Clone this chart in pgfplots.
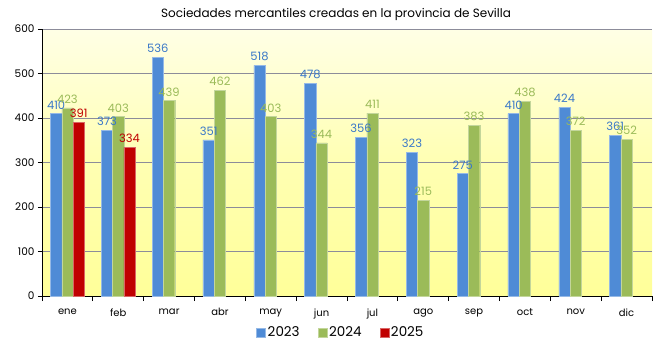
\documentclass[border=0pt]{standalone}
\usepackage{pgfplots}
\pgfplotsset{compat=1.18}
\usepackage{fontspec}
\setmainfont{Poppins}
\definecolor{c23}{HTML}{4F8BD6}
\definecolor{c24}{HTML}{9BBB59}
\definecolor{c25}{HTML}{C00000}
\definecolor{l23}{HTML}{3A78C8}
\definecolor{l24}{HTML}{9BBB59}
\definecolor{grd}{HTML}{8C8C9A}
\begin{document}
\begin{tikzpicture}[x=1pt,y=1pt]
\useasboundingbox (-42,-53) rectangle (616,296);
\begin{axis}[
  at={(0,0)}, anchor=south west,
  scale only axis, width=610pt, height=267pt,
  /pgf/number format/assume math mode=true,
  xmin=-0.5, xmax=11.5, ymin=0, ymax=600,
  ybar=0pt, bar width=11.3pt,
  axis x line*=bottom, axis y line*=left,
  axis line style={black, line width=0.8pt},
  xtick={0,...,11},
  xticklabels={ene,feb,mar,abr,may,jun,jul,ago,sep,oct,nov,dic},
  minor xtick={-0.5,0.5,...,11.5},
  major x tick style={draw=none},
  minor x tick style={black, line width=0.8pt},
  minor tick length=5pt,
  ytick={0,100,...,600},
  y tick style={black, line width=0.8pt},
  major tick length=4pt,
  tick align=outside,
  ymajorgrids, major grid style={grd, line width=0.6pt},
  x tick label style={font=\fontsize{10}{12}\selectfont, yshift=-5pt},
  y tick label style={font=\fontsize{10.5}{12}\selectfont},
  axis background/.style={shade, top color=yellow!10!white, bottom color=yellow!40!white, middle color=yellow!30!white},
  nodes near coords,
  every node near coord/.append style={font=\fontsize{11.5}{12}\selectfont, yshift=1pt},
  legend style={at={(0.49,-0.1)}, anchor=north, draw=none, fill=none, legend columns=3,
    font=\fontsize{13.5}{14}\selectfont, /tikz/every even column/.append style={column sep=16pt}},
  legend image code/.code={\fill[#1] (0pt,-4.5pt) rectangle (9pt,4.5pt);},
]
\addplot[fill=c23, draw=c23!60!white, line width=0.4pt, every node near coord/.append style={text=l23}] coordinates {(0,410)(1,373)(2,536)(3,351)(4,518)(5,478)(6,356)(7,323)(8,275)(9,410)(10,424)(11,361)};
\addplot[fill=c24, draw=c24!60!white, line width=0.4pt, every node near coord/.append style={text=l24}] coordinates {(0,423)(1,403)(2,439)(3,462)(4,403)(5,344)(6,411)(7,215)(8,383)(9,438)(10,372)(11,352)};
\addplot[fill=c25, draw=c25!60!white, line width=0.4pt, every node near coord/.append style={text=c25}] coordinates {(0,391)(1,334)};
\legend{2023,2024,2025}
\end{axis}
\node[font=\fontsize{12}{14}\selectfont] at (294,282) {Sociedades mercantiles creadas en la provincia de Sevilla};
\end{tikzpicture}
\end{document}
